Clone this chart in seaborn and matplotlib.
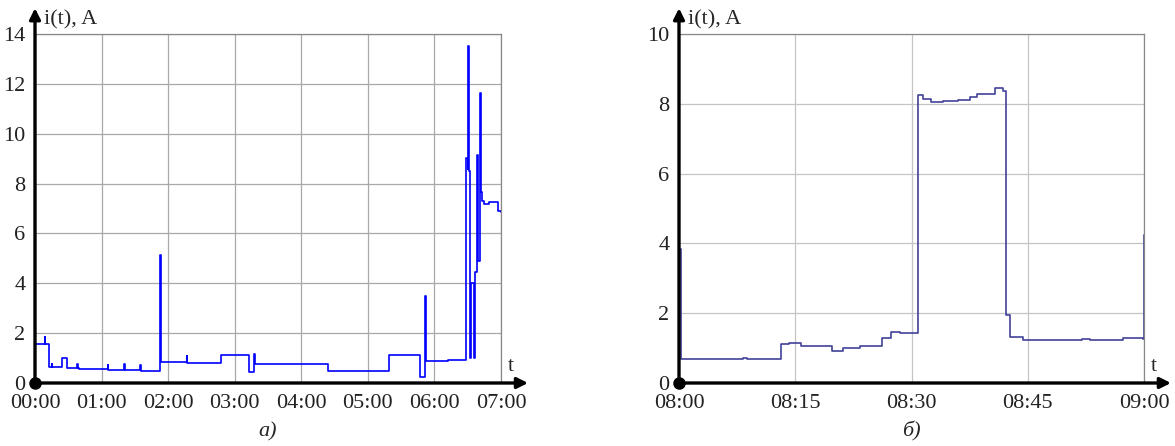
import matplotlib
matplotlib.use("Agg")
import matplotlib.pyplot as plt
import seaborn as sns
import pandas as pd

# ---- data ----
# panel a: time in hours from 00:00, current in A
t_a = [0, 0.15, 0.155, 0.21, 0.25, 0.255, 0.40, 0.475, 0.635, 0.64, 0.66, 1.09, 1.095,
       1.34, 1.345, 1.58, 1.585, 1.88, 1.89, 2.28, 2.285, 2.79, 3.21, 3.29, 3.30, 3.31,
       4.40, 5.32, 5.78, 5.86, 5.87, 5.9, 6.2, 6.47, 6.50, 6.51, 6.52, 6.54, 6.55, 6.59,
       6.61, 6.64, 6.645, 6.655, 6.69, 6.70, 6.71, 6.72, 6.75, 6.82, 6.96, 7.0]
i_a = [1.57, 1.83, 1.57, 0.63, 0.75, 0.63, 0.99, 0.61, 0.75, 0.61, 0.55, 0.72, 0.54,
       0.75, 0.52, 0.72, 0.50, 5.14, 0.83, 1.07, 0.82, 1.14, 0.45, 1.15, 0.85, 0.78,
       0.47, 1.11, 0.25, 3.50, 0.90, 0.88, 0.92, 9.03, 8.60, 13.5, 8.50, 1.00, 4.00, 1.00,
       4.47, 4.80, 9.15, 4.90, 11.63, 7.68, 7.40, 7.30, 7.20, 7.28, 6.88, 6.85]
ticks_a = [0, 1, 2, 3, 4, 5, 6, 7]
labels_a = ["00:00", "01:00", "02:00", "03:00", "04:00", "05:00", "06:00", "07:00"]

# panel b: time in minutes from 08:00, current in A
t_b = [0, 0.25, 8.3, 8.8, 13.2, 14.2, 15.8, 19.7, 21.2, 23.4, 26.2, 27.3, 28.5, 30.9,
       31.5, 32.5, 34, 36, 37.5, 38.5, 40.8, 41.8, 42.2, 42.7, 44.4, 52, 53, 57.3, 59.9, 60]
i_b = [3.83, 0.68, 0.72, 0.68, 1.13, 1.16, 1.06, 0.92, 0.99, 1.06, 1.28, 1.47, 1.42, 8.25,
       8.15, 8.05, 8.08, 8.12, 8.20, 8.27, 8.44, 8.38, 1.95, 1.31, 1.23, 1.26, 1.24, 1.30, 1.25, 4.24]
ticks_b = [0, 15, 30, 45, 60]
labels_b = ["08:00", "08:15", "08:30", "08:45", "09:00"]

sns.set_style("white")
plt.rcParams['font.family'] = ['Liberation Serif', 'DejaVu Serif']

fig = plt.figure(figsize=(11.75, 4.46), dpi=100)
ax_a = fig.add_axes([35/1175, 63/446, 466/1175, 349/446])
ax_b = fig.add_axes([679/1175, 63/446, 465/1175, 349/446])

panels = [
    (ax_a, t_a, i_a, ticks_a, labels_a, 14, 2, "#0000ff", "#a8a8a8", "а)"),
    (ax_b, t_b, i_b, ticks_b, labels_b, 10, 2, "#42429a", "#c4c4c4", "б)"),
]

for ax, tx, iy, ticks, labels, ymax, ystep, col, gcol, cap in panels:
    df = pd.DataFrame({"t": tx, "i": iy})
    sns.lineplot(data=df, x="t", y="i", ax=ax, estimator=None, sort=False,
                 drawstyle="steps-post", color=col, lw=1.2)
    ax.set_xlim(ticks[0], ticks[-1])
    ax.set_ylim(0, ymax)
    ax.set_xticks(ticks)
    ax.set_xticklabels(labels)
    ax.set_yticks(range(0, ymax + 1, ystep))
    ax.set_xlabel("")
    ax.set_ylabel("")
    ax.tick_params(axis="both", length=0, labelsize=16, colors="#222222")
    ax.tick_params(axis="x", pad=8)
    ax.tick_params(axis="y", pad=7)
    ax.grid(True, color=gcol, lw=0.9)
    for s in ("top", "right"):
        ax.spines[s].set_color("#888888")
        ax.spines[s].set_linewidth(0.9)
    for s in ("left", "bottom"):
        ax.spines[s].set_visible(False)
    # axis arrows
    ax.annotate("", xy=(1.058, 0), xytext=(0, 0), xycoords="axes fraction",
                arrowprops=dict(arrowstyle="-|>", color="black", lw=2.4,
                                mutation_scale=16, shrinkA=0, shrinkB=0),
                annotation_clip=False)
    ax.annotate("", xy=(0, 1.074), xytext=(0, 0), xycoords="axes fraction",
                arrowprops=dict(arrowstyle="-|>", color="black", lw=2.4,
                                mutation_scale=16, shrinkA=0, shrinkB=0),
                annotation_clip=False)
    ax.plot([0], [0], "o", color="black", ms=8, transform=ax.transAxes, clip_on=False, zorder=10)
    ax.text(0.02, 1.012, "i(t), A", transform=ax.transAxes, fontsize=16,
            ha="left", va="bottom")
    ax.text(1.022, 0.02, "t", transform=ax.transAxes, fontsize=16,
            ha="center", va="bottom")
    ax.text(0.5, -0.14, cap, transform=ax.transAxes, fontsize=16,
            ha="center", va="center", style="italic")

fig.savefig("out.png", dpi=100)
